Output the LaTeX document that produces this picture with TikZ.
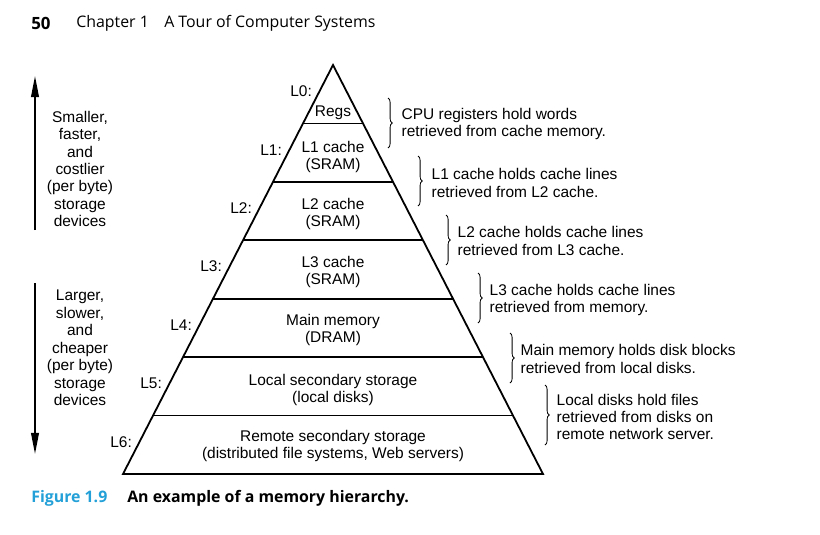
\documentclass[tikz,border=0pt]{standalone}
\usepackage{fontspec}
\setmainfont{Liberation Sans}
\newfontfamily\headfont{Open Sans}
\usetikzlibrary{calc,arrows.meta,decorations.pathreplacing}
\definecolor{figblue}{RGB}{35,160,215}
\begin{document}
\begin{tikzpicture}[x=0.025cm,y=-0.025cm,
    txt/.style={font=\fontsize{11}{12.4}\selectfont,inner sep=1pt},
    level/.style={txt,align=center},
    tag/.style={txt,anchor=east},
    note/.style={txt,align=left,anchor=west},
    hold/.style={decorate,decoration={brace,amplitude=3pt},line width=0.2mm},
    head/.style={anchor=west,inner sep=0pt,font=\headfont\fontsize{11.3}{13}\selectfont}]
    \useasboundingbox (0,0) rectangle (820,534);
    \node[head,font=\headfont\bfseries\fontsize{12}{13}\selectfont] (page) at (31,23) {50};
    \node[head] (chap) at (76,23) {Chapter 1};
    \node[head] (title) at (164,23) {A Tour of Computer Systems};
    \coordinate (apex) at (333,65);
    \coordinate (bl) at (123,474);
    \coordinate (br) at (543,474);
    \draw[line width=0.45mm,line join=miter] (apex) -- (bl) -- (br) -- cycle;
    \foreach \k in {1,...,6}
        \draw[line width=0.45mm] ($(apex)!\k/7!(bl)$) -- ($(apex)!\k/7!(br)$);
    \foreach \k in {0,...,6}
        \node[tag] (L\k) at ($(apex)!{(\k+0.45)/7}!(bl)+(-6,0)$) {L\k:};
    \node[level] (regs) at (333,113) {Regs};
    \node[level] (l1) at (333,157) {L1 cache\\(SRAM)};
    \node[level] (l2) at (333,214) {L2 cache\\(SRAM)};
    \node[level] (l3) at (333,272) {L3 cache\\(SRAM)};
    \node[level] (l4) at (333,330) {Main memory\\(DRAM)};
    \node[level] (l5) at (333,390) {Local secondary storage\\(local disks)};
    \node[level] (l6) at (333,446) {Remote secondary storage\\(distributed file systems, Web servers)};
    \node[note] (n0) at (400,124) {CPU registers hold words\\retrieved from cache memory.};
    \node[note] (n1) at (430,183) {L1 cache holds cache lines\\retrieved from L2 cache.};
    \node[note] (n2) at (456,241) {L2 cache holds cache lines\\retrieved from L3 cache.};
    \node[note] (n3) at (488,300) {L3 cache holds cache lines\\retrieved from memory.};
    \node[note] (n4) at (519,359) {Main memory holds disk blocks\\retrieved from local disks.};
    \node[note] (n5) at (555,417) {Local disks hold files\\retrieved from disks on\\remote network server.};
    \draw[hold] (388,98) -- (388,148);
    \draw[hold] (418,156) -- (418,206);
    \draw[hold] (446,215) -- (446,265);
    \draw[hold] (478,273) -- (478,323);
    \draw[hold] (510,333) -- (510,383);
    \draw[hold] (545,385) -- (545,445);
    \coordinate (upfoot) at (35,230);
    \coordinate (uptip) at (35,76);
    \coordinate (downfoot) at (35,283);
    \coordinate (downtip) at (35,454);
    \draw[line width=0.4mm,-{Triangle[length=15pt,width=5.5pt]}] (upfoot) -- (uptip);
    \draw[line width=0.4mm,-{Triangle[length=15pt,width=5.5pt]}] (downfoot) -- (downtip);
    \node[level] (small) at (80,169) {Smaller,\\faster,\\and\\costlier\\(per byte)\\storage\\devices};
    \node[level] (large) at (80,348) {Larger,\\slower,\\and\\cheaper\\(per byte)\\storage\\devices};
    \node[head,font=\headfont\bfseries\fontsize{11.3}{13}\selectfont,text=figblue] (fig) at (31,498) {Figure 1.9};
    \node[head,font=\headfont\bfseries\fontsize{11.3}{13}\selectfont] (cap) at (127,498) {An example of a memory hierarchy.};
\end{tikzpicture}
\end{document}
